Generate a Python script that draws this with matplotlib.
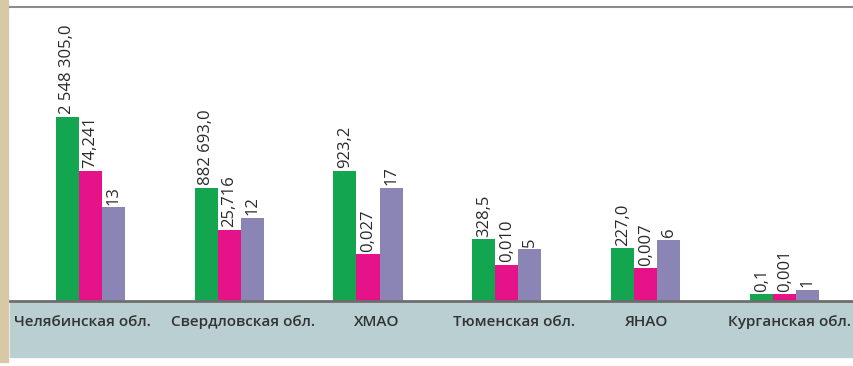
import matplotlib
matplotlib.use("Agg")
import matplotlib.pyplot as plt
from matplotlib.patches import Rectangle
import numpy as np

plt.rcParams['font.family'] = ['Open Sans', 'DejaVu Sans']

categories = ["Челябинская обл.", "Свердловская обл.", "ХМАО",
              "Тюменская обл.", "ЯНАО", "Курганская обл."]
# bar heights as drawn in the picture (relative scale)
green_vals = [184.3, 113.3, 130.3, 61.7, 52.7, 6.7]
pink_vals = [130.3, 71.0, 46.7, 36.0, 32.7, 6.7]
purple_vals = [93.7, 83.3, 113.3, 51.7, 61.0, 11.3]
# printed value labels
green_labels = ["2 548 305,0", "882 693,0", "923,2", "328,5", "227,0", "0,1"]
pink_labels = ["74,241", "25,716", "0,027", "0,010", "0,007", "0,001"]
purple_labels = ["13", "12", "17", "5", "6", "1"]

W, H = 854, 366
fig = plt.figure(figsize=(W / 100, H / 100), dpi=100)
fig.patch.set_facecolor("white")

# left beige strip
fig.patches.append(Rectangle((0, (H - 362) / H), 8 / W, 362 / H,
                             transform=fig.transFigure, color="#d8c8a6", zorder=0))
# bottom grey-blue band
fig.patches.append(Rectangle((10 / W, (H - 357) / H), (W - 10) / W, 56 / H,
                             transform=fig.transFigure, color="#b9cfd1", zorder=0))

ax = fig.add_axes([10 / W, (H - 301) / H, (W - 10) / W, (301 - 7) / H])
ax.set_facecolor("none")
ax.set_zorder(2)

x = np.arange(len(categories))
w = 0.166
colors = ["#14a551", "#e5128a", "#8a85b4"]
series = [(green_vals, green_labels), (pink_vals, pink_labels), (purple_vals, purple_labels)]
for k, (vals, labs) in enumerate(series):
    xs = x + (k - 1) * w
    ax.bar(xs, vals, width=w, color=colors[k], zorder=2)
    for xi, v, t in zip(xs, vals, labs):
        ax.annotate(t, (xi, v), xytext=(0, 2), textcoords="offset points",
                    rotation=90, ha="center", va="bottom", fontsize=12,
                    color="#2a2a2a")

ax.set_xlim((10 - 90.2) / 138.9, (854 - 90.2) / 138.9)
ax.set_ylim(0, 294)
ax.set_yticks([])
ax.set_xticks([])
label_dx = [-8, 14, 9, 7, 1, 5]
for xi, name, dx in zip(x, categories, label_dx):
    ax.annotate(name, (xi, 0), xycoords=("data", "axes fraction"),
                xytext=(dx, -14), textcoords="offset pixels",
                ha="center", va="top", fontsize=11, fontweight="semibold",
                color="#333333", annotation_clip=False)
for s in ["left", "right"]:
    ax.spines[s].set_visible(False)
ax.spines["top"].set_color("#8c8c8c")
ax.spines["top"].set_linewidth(1.5)
ax.spines["bottom"].set_color("#6e6e6e")
ax.spines["bottom"].set_linewidth(2)

fig.savefig("out.png", dpi=100)
